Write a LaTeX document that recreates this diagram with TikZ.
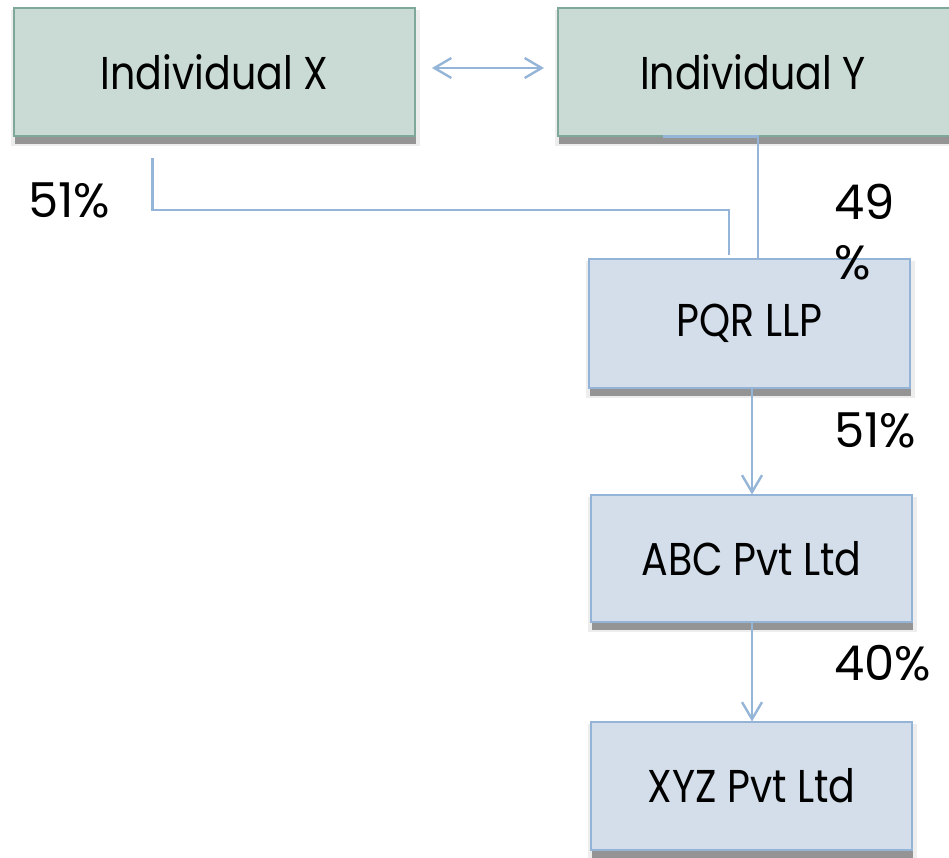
\documentclass[tikz,border=0pt]{standalone}
\usepackage{fontspec}
\setmainfont{Poppins}[FakeStretch=0.86]
\newfontfamily\sharefont{Poppins}
\usetikzlibrary{arrows.meta}

\definecolor{greenfill}{HTML}{CADAD5}
\definecolor{greenline}{HTML}{7DA89A}
\definecolor{bluefill}{HTML}{D3DEEA}
\definecolor{blueline}{HTML}{93B4D6}
\definecolor{linkcol}{HTML}{95B5D8}

\tikzset{
  boxshadow/.style={
    preaction={fill=black!7, transform canvas={xshift=1pt, yshift=-6pt}, draw=black!7, line width=8pt},
    preaction={fill=black!42, transform canvas={xshift=0.5pt, yshift=-8pt}}
  },
  entity/.style={rectangle, line width=1.8pt, font=\fontsize{46}{55}\selectfont,
    inner sep=0pt, boxshadow},
  personbox/.style={entity, fill=greenfill, draw=greenline},
  companybox/.style={entity, fill=bluefill, draw=blueline},
  share/.style={font=\sharefont\fontsize{48}{60}\selectfont, inner sep=0pt, align=left},
  link/.style={draw=linkcol, line width=2.4pt},
  tip/.style={-{Straight Barb[length=17pt,width=20pt,line width=2.4pt]}}
}

\begin{document}
\begin{tikzpicture}[x=1pt,y=-1pt]
\useasboundingbox (0,0) rectangle (949,857);

% owners
\node[personbox, minimum width=401pt, minimum height=128pt] (indx) at (214.5,72) {Individual X};
\node[personbox, minimum width=410pt, minimum height=128pt] (indy) at (763,72) {};
\node (indytext) at (753,72) [font=\fontsize{46}{55}\selectfont, inner sep=0pt] {Individual Y};

% companies
\node[companybox, minimum width=321pt, minimum height=129pt] (pqr) at (749.5,323.5) {PQR LLP};
\node[companybox, minimum width=321pt, minimum height=127pt] (abc) at (751.5,558.5) {ABC Pvt Ltd};
\node[companybox, minimum width=321pt, minimum height=128pt] (xyz) at (751.5,786) {XYZ Pvt Ltd};

% relation between the two individuals
\coordinate (relL) at (432,68);
\coordinate (relR) at (544,68);
\draw[link, {Straight Barb[length=17pt,width=20pt,line width=2.4pt]}-{Straight Barb[length=17pt,width=20pt,line width=2.4pt]}] (relL) -- (relR);

% holdings in PQR LLP
\coordinate (xstart) at (152.5,158);
\coordinate (xend) at (729,255);
\draw[link] (xstart) |- (729,210) -- (xend);
\coordinate (ystart) at (663,136.5);
\draw[link] (ystart) -- (758,136.5) -- (758,259);

% downstream holdings
\draw[link, tip] (752,388) -- (752,494.5);
\draw[link, tip] (752,622) -- (752,721.5);

% percentage labels
\node[share, anchor=west] (px) at (28,200) {51\%};
\node[share, anchor=north west] (py) at (834,184) {49\\\%};
\node[share, anchor=west] (pabc) at (834,430) {51\%};
\node[share, anchor=west] (pxyz) at (834,663) {40\%};
\end{tikzpicture}
\end{document}
